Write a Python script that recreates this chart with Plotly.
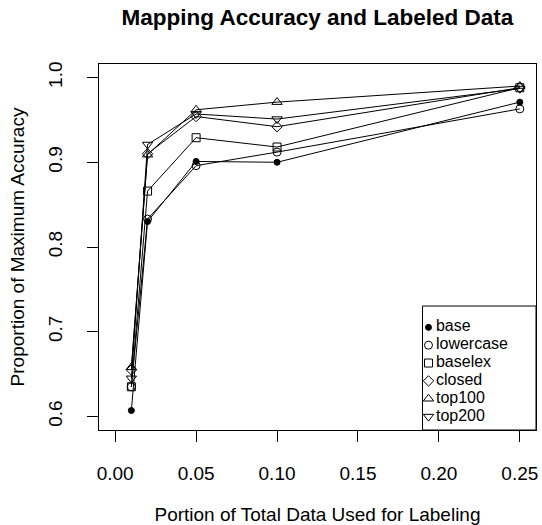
import plotly.graph_objects as go

portion = [0.01, 0.02, 0.05, 0.10, 0.25]

series_names = ["base", "lowercase", "baselex", "closed", "top100", "top200"]
base = [0.607, 0.830, 0.901, 0.900, 0.971]
lowercase = [0.635, 0.833, 0.896, 0.912, 0.963]
baselex = [0.635, 0.866, 0.929, 0.918, 0.988]
closed = [0.655, 0.910, 0.954, 0.942, 0.988]
top100 = [0.658, 0.909, 0.962, 0.971, 0.990]
top200 = [0.645, 0.921, 0.957, 0.951, 0.987]

x_ticks = [0.00, 0.05, 0.10, 0.15, 0.20, 0.25]
x_tick_labels = ["0.00", "0.05", "0.10", "0.15", "0.20", "0.25"]
y_ticks = [0.6, 0.7, 0.8, 0.9, 1.0]
y_tick_labels = ["0.6", "0.7", "0.8", "0.9", "1.0"]

values = [base, lowercase, baselex, closed, top100, top200]
symbols = ["circle", "circle-open", "square-open", "diamond-open",
           "triangle-up-open", "triangle-down-open"]
sizes = [6, 8, 8, 8, 9, 9]

FONT = "Liberation Sans, Arial, Helvetica, sans-serif"
W, H = 542, 525
ML, MR, MT, MB = 99, 4, 64, 92
PW, PH = W - ML - MR, H - MT - MB

fig = go.Figure()
for name, vals in zip(series_names, values):
    fig.add_trace(go.Scatter(x=portion, y=vals, mode="lines",
                             line=dict(color="black", width=1),
                             showlegend=False, hoverinfo="skip"))
for name, vals, sym, sz in zip(series_names, values, symbols, sizes):
    fig.add_trace(go.Scatter(x=portion, y=vals, mode="markers", name=name,
                             showlegend=False,
                             marker=dict(symbol=sym, size=sz, color="black",
                                         line=dict(color="black", width=1))))

# custom legend (R-style, tight rows) on its own small axis pair
leg_left, leg_right, leg_top, leg_bottom = 424, 538, 308, 433
row_first, row_gap = 21.5, 18
rows = [row_first + i * row_gap for i in range(len(series_names))]
for name, sym, sz, ry in zip(series_names, symbols, sizes, rows):
    fig.add_trace(go.Scatter(x=[6], y=[ry], mode="markers",
                             marker=dict(symbol=sym, size=sz, color="black",
                                         line=dict(color="black", width=1)),
                             xaxis="x2", yaxis="y2", showlegend=False,
                             hoverinfo="skip"))
fig.add_trace(go.Scatter(x=[13.5] * len(series_names), y=rows, mode="text",
                         text=series_names, textposition="middle right",
                         textfont=dict(size=16, family=FONT, color="black"),
                         marker=dict(size=1),
                         xaxis="x2", yaxis="y2", showlegend=False,
                         hoverinfo="skip"))

fig.add_shape(type="rect", xref="x2 domain", yref="y2 domain",
              x0=0, x1=1, y0=0, y1=1, line=dict(color="black", width=1),
              fillcolor="white", layer="below")

fig.update_layout(
    width=W, height=H,
    margin=dict(l=ML, r=MR, t=MT, b=MB),
    paper_bgcolor="white", plot_bgcolor="rgba(0,0,0,0)",
    font=dict(family=FONT, size=19, color="black"),
    title=dict(text="<b>Mapping Accuracy and Labeled Data</b>",
               x=0.5, xref="paper", y=1 - 17 / H, yref="container",
               xanchor="center", yanchor="middle",
               font=dict(size=22.5, family=FONT, color="black")),
    showlegend=False,
    xaxis2=dict(domain=[(leg_left - ML) / PW, (leg_right - ML) / PW],
                anchor="y2", range=[0, leg_right - leg_left], visible=False,
                fixedrange=True),
    yaxis2=dict(domain=[(MT + PH - leg_bottom) / PH, (MT + PH - leg_top) / PH],
                anchor="x2", range=[leg_bottom - leg_top, 0], visible=False,
                fixedrange=True),
)
fig.layout.xaxis.update(range=[-0.01, 0.26], tickvals=x_ticks, ticktext=x_tick_labels,
                        showgrid=False, zeroline=False, showline=True, mirror=True,
                        linecolor="black", linewidth=1, ticks="outside", ticklen=11,
                        tickcolor="black", ticklabelstandoff=15,
                        tickfont=dict(size=19),
                        title=dict(text="Portion of Total Data Used for Labeling",
                                   standoff=24, font=dict(size=19)))
fig.layout.yaxis.update(range=[0.584, 1.016], tickvals=y_ticks, ticktext=y_tick_labels,
                        tickangle=-90,
                        showgrid=False, zeroline=False, showline=True, mirror=True,
                        linecolor="black", linewidth=1, ticks="outside", ticklen=11,
                        tickcolor="black", ticklabelstandoff=17,
                        tickfont=dict(size=19),
                        title=dict(text="Proportion of Maximum Accuracy",
                                   standoff=15, font=dict(size=19)))

fig.write_html("out.html", config={"displayModeBar": False},
               post_script="document.body.style.margin='0px';")
